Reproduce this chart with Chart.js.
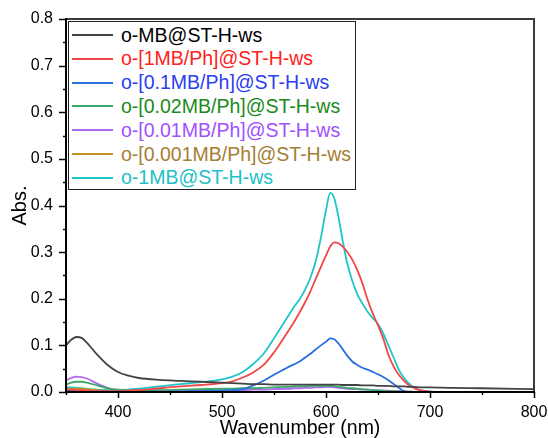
<!DOCTYPE html>
<html><head><meta charset="utf-8">
<script src="https://cdn.jsdelivr.net/npm/chart.js@4/dist/chart.umd.min.js"></script>
<style>
html,body{margin:0;padding:0;background:#fff;}
#wrap{position:relative;width:548px;height:438px;}
#legend{position:absolute;left:68px;top:21px;width:286px;height:167px;border:1px solid #222;background:#fff;font-family:"Liberation Sans",Arial,sans-serif;font-size:19.5px;}
.row{position:absolute;left:0;height:24px;display:flex;align-items:center;white-space:nowrap;}
.sw{width:41px;height:0;border-top:2px solid;margin-left:3px;margin-right:8px;}
</style></head>
<body><div id="wrap"><canvas id="c" width="548" height="438"></canvas><div id="legend"></div></div>
<script>
const wavelengths = [350,355,360,365,370,380,390,400,410,420,440,460,480,500,510,520,530,540,550,560,565,570,575,580,585,590,595,600,604,608,612,616,620,625,630,635,640,645,650,655,660,665,670,675,680,685,690,700,720,750,800];
const seriesLabels = ["o-MB@ST-H-ws","o-[1MB/Ph]@ST-H-ws","o-[0.1MB/Ph]@ST-H-ws","o-[0.02MB/Ph]@ST-H-ws","o-[0.01MB/Ph]@ST-H-ws","o-[0.001MB/Ph]@ST-H-ws","o-1MB@ST-H-ws"];
const absMB = [0.100,0.112,0.118,0.116,0.106,0.080,0.058,0.043,0.035,0.030,
0.026,0.024,0.022,0.020,0.019,0.018,0.017,0.017,0.016,0.016,
0.016,0.016,0.016,0.016,0.016,0.016,0.016,0.016,0.016,0.016,
0.016,0.015,0.015,0.015,0.015,0.014,0.014,0.014,0.013,0.013,
0.013,0.012,0.012,0.012,0.011,0.011,0.010,0.010,0.009,0.008,0.006];
const abs1MBPh = [0.005,0.005,0.004,0.004,0.003,0.002,0.002,0.002,0.003,0.004,
0.008,0.012,0.015,0.019,0.023,0.031,0.042,0.058,0.085,0.118,
0.135,0.153,0.172,0.193,0.216,0.242,0.268,0.293,0.312,0.321,
0.319,0.312,0.302,0.285,0.262,0.233,0.198,0.168,0.143,0.115,
0.080,0.055,0.037,0.024,0.014,0.008,0.004,0.001,0,0,0];
const abs01MBPh = [0.003,0.003,0.003,0.003,0.002,0.002,0.001,0.001,0.001,0.001,
0.001,0.001,0.002,0.003,0.004,0.006,0.014,0.024,0.037,0.049,
0.055,0.060,0.066,0.074,0.082,0.091,0.100,0.108,0.115,0.113,
0.104,0.092,0.079,0.066,0.058,0.052,0.048,0.043,0.038,0.032,
0.025,0.017,0.009,0.002,0,0,0,0,0,0,0];
const abs002MBPh = [0.016,0.020,0.022,0.022,0.020,0.014,0.008,0.005,0.004,0.004,
0.004,0.005,0.006,0.007,0.007,0.008,0.008,0.009,0.010,0.011,
0.011,0.012,0.012,0.012,0.013,0.013,0.013,0.013,0.013,0.012,
0.011,0.010,0.009,0.008,0.007,0.006,0.005,0.004,0.003,0.003,
0.002,0.002,0.001,0.001,0.001,0,0,0,0,0,0];
const abs001MBPh = [0.025,0.030,0.033,0.032,0.029,0.018,0.009,0.004,0.003,0.003,
0.003,0.003,0.003,0.004,0.004,0.004,0.005,0.005,0.006,0.007,
0.007,0.008,0.008,0.009,0.009,0.010,0.010,0.011,0.011,0.010,
0.009,0.008,0.007,0.006,0.006,0.005,0.005,0.004,0.004,0.003,
0.003,0.002,0.002,0.001,0.001,0,0,0,0,0,0];
const abs0001MBPh = [0.006,0.007,0.007,0.007,0.006,0.004,0.002,0.001,0,0,
0,0,0,0,0,0,0,0,0,0,
0,0,0,0,0,0,0,0,0,0,
0,0,0,0,0,0,0,0,0,0,
0,0,0,0,0,0,0,0,0,0,0];
const abs1MB = [0.010,0.010,0.009,0.008,0.007,0.005,0.004,0.004,0.005,0.007,
0.012,0.017,0.021,0.027,0.033,0.043,0.060,0.082,0.115,0.150,
0.168,0.185,0.200,0.220,0.245,0.280,0.330,0.390,0.427,0.415,
0.375,0.325,0.280,0.240,0.210,0.190,0.172,0.158,0.146,0.126,
0.100,0.074,0.048,0.030,0.018,0.009,0.004,0.001,0,0,0];

const seriesValues = [absMB, abs1MBPh, abs01MBPh, abs002MBPh, abs001MBPh, abs0001MBPh, abs1MB];
const lineColors = ["#444444","#f04848","#2a6fe0","#3aa86a","#b06af0","#c39422","#1ec6c8"];
const textColors = ["#000000","#ff2020","#2a40f0","#1a8a1a","#a050ff","#a57e32","#20c0c8"];
const xTicksMajor = [400,500,600,700,800];

const FONT = '"Liberation Sans", Arial, sans-serif';

const datasets = seriesValues.map((vals,i)=>({
  label: seriesLabels[i],
  data: wavelengths.map((w,j)=>({x:w,y:vals[j]})),
  borderColor: lineColors[i],
  borderWidth: 1.8,
  pointRadius: 0,
  fill: false,
  cubicInterpolationMode: 'monotone'
}));

const framePlugin = {
  id: 'frame',
  afterDatasetsDraw(chart){
    const {ctx, chartArea:a, scales:{x,y}} = chart;
    ctx.save();
    ctx.lineCap = 'butt';
    ctx.strokeStyle = '#000';
    ctx.lineWidth = 1.5;
    x.ticks.forEach(t=>{
      const px = Math.round(x.getPixelForValue(t.value))+0.5;
      const len = (t.value % 100 === 0) ? 6 : 3;
      ctx.beginPath(); ctx.moveTo(px, a.bottom); ctx.lineTo(px, a.bottom+len); ctx.stroke();
    });
    y.ticks.forEach(t=>{
      const py = Math.round(y.getPixelForValue(t.value))+0.5;
      const major = Math.abs(t.value*10 - Math.round(t.value*10)) < 1e-6;
      const len = major ? 7 : 3;
      ctx.beginPath(); ctx.moveTo(a.left, py); ctx.lineTo(a.left-len, py); ctx.stroke();
    });
    ctx.lineWidth = 2;
    ctx.strokeStyle = '#3a3a3a';
    ctx.beginPath(); ctx.moveTo(a.left, a.top); ctx.lineTo(a.right, a.top); ctx.lineTo(a.right, a.bottom+1); ctx.stroke();
    ctx.strokeStyle = '#000';
    ctx.beginPath(); ctx.moveTo(a.left, a.top-1); ctx.lineTo(a.left, a.bottom); ctx.lineTo(a.right+1, a.bottom); ctx.stroke();
    ctx.restore();
  }
};

new Chart(document.getElementById('c'), {
  type: 'line',
  data: { datasets },
  options: {
    responsive: false,
    animation: false,
    devicePixelRatio: 1,
    layout: { padding: { top: 19, right: 14, left: 0, bottom: 0 } },
    plugins: { legend: { display: false }, tooltip: { enabled: false } },
    scales: {
      x: {
        type: 'linear', min: 350, max: 800,
        afterFit: s => { s.height = 46; },
        grid: { display: true, drawOnChartArea: false, drawTicks: true, tickLength: 11, color: 'transparent' },
        border: { display: false },
        ticks: { stepSize: 50, autoSkip: false, maxRotation: 0, padding: 0, color: '#000', font: { family: FONT, size: 16 },
          callback: v => xTicksMajor.includes(v) ? String(v) : '' },
        title: { display: true, text: 'Wavenumber (nm)', color: '#000', font: { family: FONT, size: 19.5, lineHeight: 1 }, padding: { top: 0, bottom: 0 } }
      },
      y: {
        type: 'linear', min: 0, max: 0.8,
        afterFit: s => { s.width = 66; },
        grid: { display: true, drawOnChartArea: false, drawTicks: true, tickLength: 7, color: 'transparent' },
        border: { display: false },
        ticks: { stepSize: 0.05, autoSkip: false, padding: 6, color: '#000', font: { family: FONT, size: 16 },
          callback: v => (Math.abs(v*10 - Math.round(v*10)) < 1e-6) ? v.toFixed(1) : '' },
        title: { display: true, text: 'Abs.', color: '#000', font: { family: FONT, size: 20, lineHeight: 1 }, padding: { top: 10, bottom: 0 } }
      }
    }
  },
  plugins: [framePlugin]
});

const leg = document.getElementById('legend');
seriesLabels.forEach((lab,i)=>{
  const row = document.createElement('div');
  row.className = 'row';
  row.style.top = (1 + i*23.8) + 'px';
  const sw = document.createElement('span');
  sw.className = 'sw';
  sw.style.borderTopColor = lineColors[i];
  const tx = document.createElement('span');
  tx.textContent = lab;
  tx.style.color = textColors[i];
  row.appendChild(sw); row.appendChild(tx);
  leg.appendChild(row);
});
</script>
</body></html>
